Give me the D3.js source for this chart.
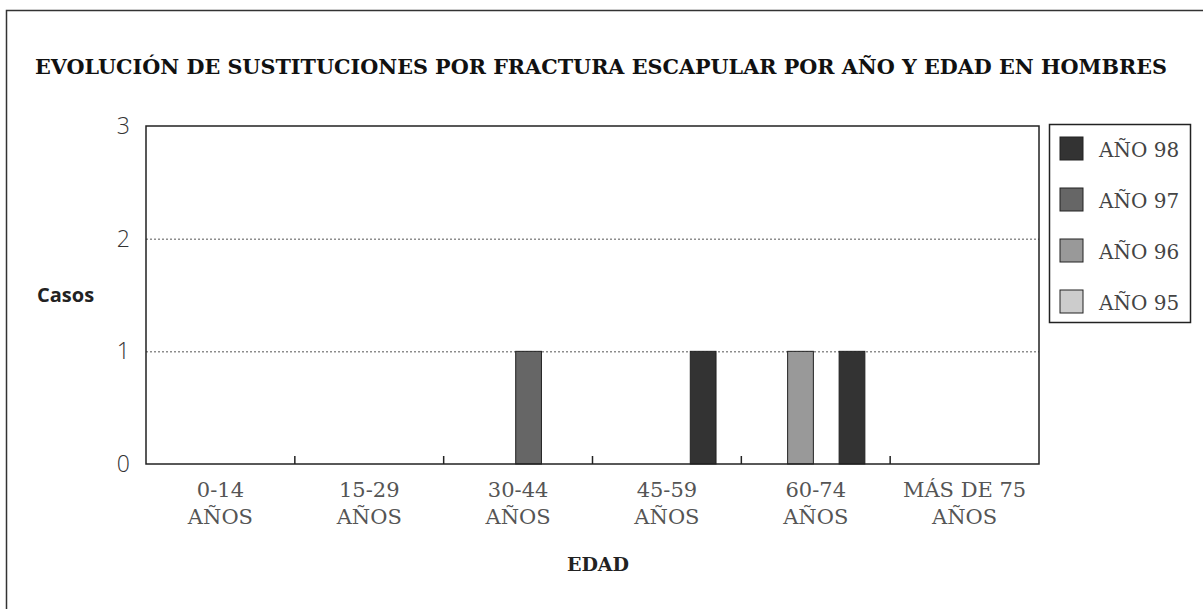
<!DOCTYPE html>
<html>
<head>
<meta charset="utf-8">
<script src="https://cdn.jsdelivr.net/npm/d3@7"></script>
<style>
  body { margin: 0; background: #fff; }
  svg { font-family: "DejaVu Serif", serif; }
</style>
</head>
<body>
<div id="chart"></div>
<script>
// categories and series
var edades = [["0-14", "AÑOS"], ["15-29", "AÑOS"], ["30-44", "AÑOS"], ["45-59", "AÑOS"], ["60-74", "AÑOS"], ["MÁS DE 75", "AÑOS"]];
var anios = ["AÑO 95", "AÑO 96", "AÑO 97", "AÑO 98"];
var casos95 = [0, 0, 0, 0, 0, 0];
var casos96 = [0, 0, 0, 0, 1, 0];
var casos97 = [0, 0, 1, 0, 0, 0];
var casos98 = [0, 0, 0, 1, 1, 0];
var yTicks = [0, 1, 2, 3];

var series = [casos95, casos96, casos97, casos98];
var colores = ["#cccccc", "#999999", "#666666", "#333333"];

var W = 1203, H = 609;
var margin = {top: 126, right: 164, bottom: 145, left: 146},
    width = W - margin.left - margin.right,
    height = H - margin.top - margin.bottom;

var svg = d3.select("#chart").append("svg")
    .attr("width", W)
    .attr("height", H);

// outer frame (runs off the page at right and bottom)
svg.append("rect")
    .attr("x", 6.5).attr("y", 10.5)
    .attr("width", W + 20).attr("height", H + 20)
    .attr("fill", "none")
    .attr("stroke", "#333")
    .attr("stroke-width", 1.5);

svg.append("text")
    .attr("x", 35)
    .attr("y", 74)
    .attr("font-weight", "bold")
    .attr("font-size", 21)
    .attr("textLength", 1132)
    .attr("lengthAdjust", "spacingAndGlyphs")
    .attr("fill", "#111")
    .text("EVOLUCIÓN DE SUSTITUCIONES POR FRACTURA ESCAPULAR POR AÑO Y EDAD EN HOMBRES");

var g = svg.append("g")
    .attr("transform", "translate(" + margin.left + "," + margin.top + ")");

var x0 = d3.scaleBand()
    .domain(d3.range(edades.length))
    .range([0, width])
    .padding(0);

var x1 = d3.scaleBand()
    .domain(anios)
    .range([x0.bandwidth() * 0.138, x0.bandwidth() * 0.83])
    .padding(0);

var y = d3.scaleLinear()
    .domain([0, 3])
    .range([height, 0]);

// gridlines
g.selectAll(".grid")
  .data([1, 2])
  .enter().append("line")
    .attr("x1", 0).attr("x2", width)
    .attr("y1", function(d) { return y(d) + 0.5; })
    .attr("y2", function(d) { return y(d) + 0.5; })
    .attr("stroke", "#555")
    .attr("stroke-dasharray", "2,2");

// bars
var groups = g.selectAll(".grupo")
  .data(edades)
  .enter().append("g")
    .attr("transform", function(d, i) { return "translate(" + x0(i) + ",0)"; });

groups.selectAll("rect")
  .data(function(d, i) {
      return anios.map(function(a, j) { return {anio: a, value: series[j][i], c: colores[j]}; });
  })
  .enter().append("rect")
    .attr("x", function(d) { return x1(d.anio); })
    .attr("y", function(d) { return y(d.value); })
    .attr("width", x1.bandwidth())
    .attr("height", function(d) { return height - y(d.value); })
    .attr("fill", function(d) { return d.c; })
    .attr("stroke", "#222")
    .attr("stroke-width", 1);

// plot frame
g.append("rect")
    .attr("width", width)
    .attr("height", height)
    .attr("fill", "none")
    .attr("stroke", "#222")
    .attr("stroke-width", 1.5);

// x axis: inner tick marks at category boundaries
g.selectAll(".xtick")
  .data(d3.range(1, edades.length))
  .enter().append("line")
    .attr("x1", function(i) { return x0(i); })
    .attr("x2", function(i) { return x0(i); })
    .attr("y1", height)
    .attr("y2", height - 8)
    .attr("stroke", "#222")
    .attr("stroke-width", 1.5);

var xl = g.selectAll(".xlab")
  .data(edades)
  .enter().append("text")
    .attr("text-anchor", "middle")
    .attr("font-size", 21)
    .attr("fill", "#555")
    .attr("transform", function(d, i) { return "translate(" + (x0(i) + x0.bandwidth() / 2) + "," + (height + 33) + ")"; });
xl.append("tspan").attr("x", 0).attr("y", 0).text(function(d) { return d[0]; });
xl.append("tspan").attr("x", 0).attr("y", 27).text(function(d) { return d[1]; });

// y labels
g.selectAll(".ylab")
  .data(yTicks)
  .enter().append("text")
    .attr("x", -16)
    .attr("y", function(d) { return y(d) + 8; })
    .attr("text-anchor", "end")
    .style("font-family", "'Open Sans', sans-serif")
    .attr("font-weight", 300)
    .attr("font-size", 23)
    .attr("fill", "#333")
    .text(function(d) { return d; });

svg.append("text")
    .attr("x", 37).attr("y", 302)
    .style("font-family", "'Open Sans', sans-serif")
    .attr("font-weight", "bold")
    .attr("font-size", 20)
    .attr("fill", "#222")
    .text("Casos");

svg.append("text")
    .attr("x", 598).attr("y", 571)
    .attr("text-anchor", "middle")
    .attr("font-weight", "bold")
    .attr("font-size", 19)
    .attr("fill", "#222")
    .text("EDAD");

// legend
var legend = svg.append("g").attr("transform", "translate(1049,124)");
legend.append("rect")
    .attr("x", 0.5).attr("y", 0.5)
    .attr("width", 141).attr("height", 198)
    .attr("fill", "none")
    .attr("stroke", "#222")
    .attr("stroke-width", 1.5);

var items = legend.selectAll(".item")
  .data(anios.slice().reverse())
  .enter().append("g")
    .attr("transform", function(d, i) { return "translate(11," + (13 + i * 51) + ")"; });
items.append("rect")
    .attr("width", 23).attr("height", 23)
    .attr("fill", function(d) { return colores[anios.indexOf(d)]; })
    .attr("stroke", "#222")
    .attr("stroke-width", 1);
items.append("text")
    .attr("x", 39).attr("y", 20)
    .attr("font-size", 20)
    .attr("fill", "#444")
    .text(function(d) { return d; });
</script>
</body>
</html>
